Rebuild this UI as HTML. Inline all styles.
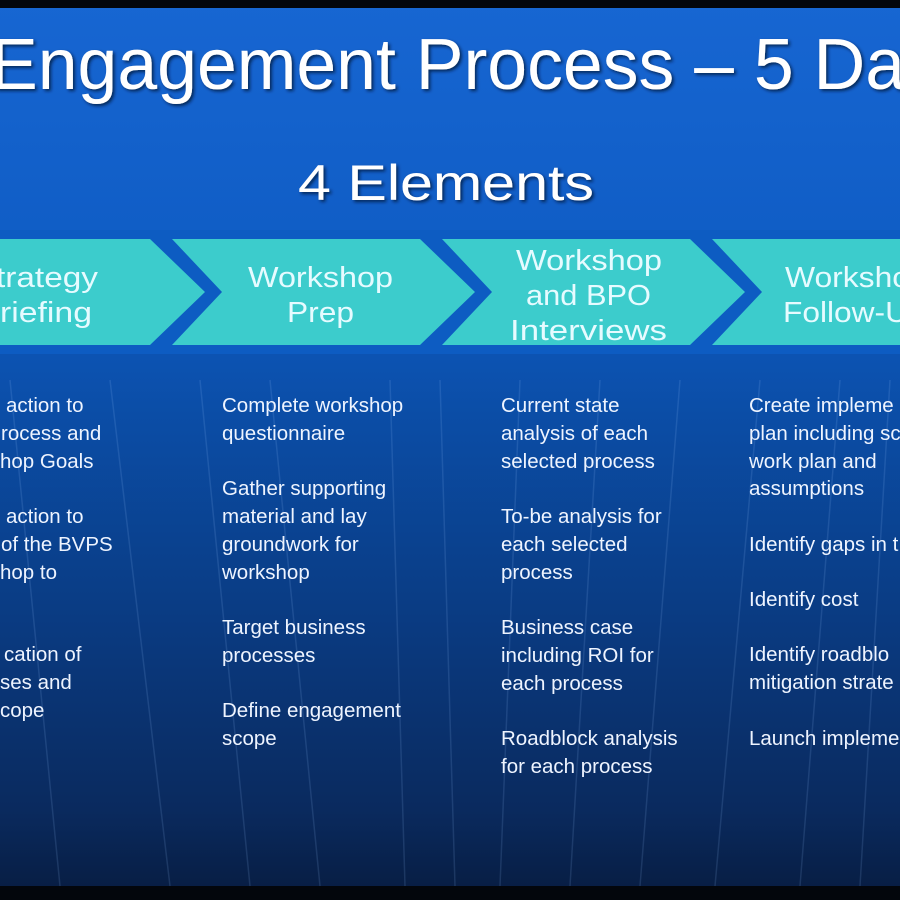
<!DOCTYPE html>
<html><head><meta charset="utf-8"><style>
html,body{margin:0;padding:0;background:#000;}
svg{display:block;}
.t{font-family:"Liberation Sans",sans-serif;fill:#fff;}
.b{font-family:"Liberation Sans",sans-serif;fill:#eef4ff;font-size:20.5px;}
.c{font-family:"Liberation Sans",sans-serif;fill:#e6fbff;font-size:29px;}
</style></head><body>
<svg width="900" height="900" viewBox="0 0 900 900" xmlns="http://www.w3.org/2000/svg">
<defs>
<linearGradient id="bg" x1="0" y1="0" x2="0" y2="1">
<stop offset="0" stop-color="#1766d2"/>
<stop offset="0.3" stop-color="#0f5cc4"/>
<stop offset="0.45" stop-color="#0b4ea8"/>
<stop offset="0.7" stop-color="#0a3a80"/>
<stop offset="0.9" stop-color="#0a2a5e"/>
<stop offset="1" stop-color="#071c40"/>
</linearGradient>
<filter id="sh"><feDropShadow dx="2" dy="2" stdDeviation="1.5" flood-color="#02163a" flood-opacity="0.8"/></filter>
</defs>
<rect x="0" y="0" width="900" height="900" fill="url(#bg)"/>
<rect x="0" y="0" width="900" height="8" fill="#03060c"/>
<rect x="0" y="886" width="900" height="14" fill="#03060c"/>
<g stroke="#9fc4ff" stroke-opacity="0.14" stroke-width="1.5">
<line x1="10" y1="380" x2="60" y2="886"/>
<line x1="110" y1="380" x2="170" y2="886"/>
<line x1="200" y1="380" x2="250" y2="886"/>
<line x1="270" y1="380" x2="320" y2="886"/>
<line x1="390" y1="380" x2="405" y2="886"/>
<line x1="440" y1="380" x2="455" y2="886"/>
<line x1="520" y1="380" x2="500" y2="886"/>
<line x1="600" y1="380" x2="570" y2="886"/>
<line x1="680" y1="380" x2="640" y2="886"/>
<line x1="760" y1="380" x2="715" y2="886"/>
<line x1="840" y1="380" x2="800" y2="886"/>
<line x1="890" y1="380" x2="860" y2="886"/>
</g>
<text class="t" x="-10" y="89" font-size="72" textLength="915" lengthAdjust="spacingAndGlyphs" filter="url(#sh)">Engagement Process – 5 Da</text>
<text class="t" x="298" y="200" font-size="50" textLength="296" lengthAdjust="spacingAndGlyphs" filter="url(#sh)">4 Elements</text>
<rect x="0" y="230" width="900" height="124" fill="#0d5cc2"/>
<g fill="#3ccccc">
<polygon points="-100,239 150,239 205,292 150,345 -100,345"/>
<polygon points="172,239 420,239 475,292 420,345 172,345 222,292"/>
<polygon points="442,239 690,239 745,292 690,345 442,345 492,292"/>
<polygon points="712,239 960,239 1015,292 960,345 712,345 762,292"/>
</g>
<g class="c">
<text x="-4" y="287" textLength="102" lengthAdjust="spacingAndGlyphs">trategy</text>
<text x="0" y="322" textLength="92" lengthAdjust="spacingAndGlyphs">riefing</text>
<text x="248" y="287" textLength="145" lengthAdjust="spacingAndGlyphs">Workshop</text>
<text x="287" y="322" textLength="67" lengthAdjust="spacingAndGlyphs">Prep</text>
<text x="516" y="270" textLength="146" lengthAdjust="spacingAndGlyphs">Workshop</text>
<text x="526" y="305" textLength="125" lengthAdjust="spacingAndGlyphs">and BPO</text>
<text x="510" y="340" textLength="157" lengthAdjust="spacingAndGlyphs">Interviews</text>
<text x="785" y="287" textLength="125" lengthAdjust="spacingAndGlyphs">Worksho</text>
<text x="783" y="322" textLength="125" lengthAdjust="spacingAndGlyphs">Follow-U</text>
</g>
<g class="b">
<text x="6" y="412">action to</text>
<text x="1" y="440">rocess and</text>
<text x="0" y="468">hop Goals</text>
<text x="6" y="523">action to</text>
<text x="1" y="551">of the BVPS</text>
<text x="0" y="579">hop to</text>
<text x="4" y="661">cation of</text>
<text x="0" y="689">ses  and</text>
<text x="0" y="717">cope</text>

<text x="222" y="412">Complete workshop</text>
<text x="222" y="440">questionnaire</text>
<text x="222" y="495">Gather supporting</text>
<text x="222" y="523">material and lay</text>
<text x="222" y="551">groundwork for</text>
<text x="222" y="579">workshop</text>
<text x="222" y="634">Target business</text>
<text x="222" y="662">processes</text>
<text x="222" y="717">Define engagement</text>
<text x="222" y="745">scope</text>

<text x="501" y="412">Current state</text>
<text x="501" y="440">analysis of each</text>
<text x="501" y="468">selected process</text>
<text x="501" y="523">To-be analysis for</text>
<text x="501" y="551">each selected</text>
<text x="501" y="579">process</text>
<text x="501" y="634">Business case</text>
<text x="501" y="662">including ROI for</text>
<text x="501" y="690">each process</text>
<text x="501" y="745">Roadblock analysis</text>
<text x="501" y="773">for each process</text>

<text x="749" y="412">Create impleme</text>
<text x="749" y="440">plan including sc</text>
<text x="749" y="468">work plan and</text>
<text x="749" y="495">assumptions</text>
<text x="749" y="551">Identify gaps in t</text>
<text x="749" y="606">Identify cost</text>
<text x="749" y="661">Identify roadblo</text>
<text x="749" y="689">mitigation strate</text>
<text x="749" y="745">Launch impleme</text>
</g>
</svg>
</body></html>
